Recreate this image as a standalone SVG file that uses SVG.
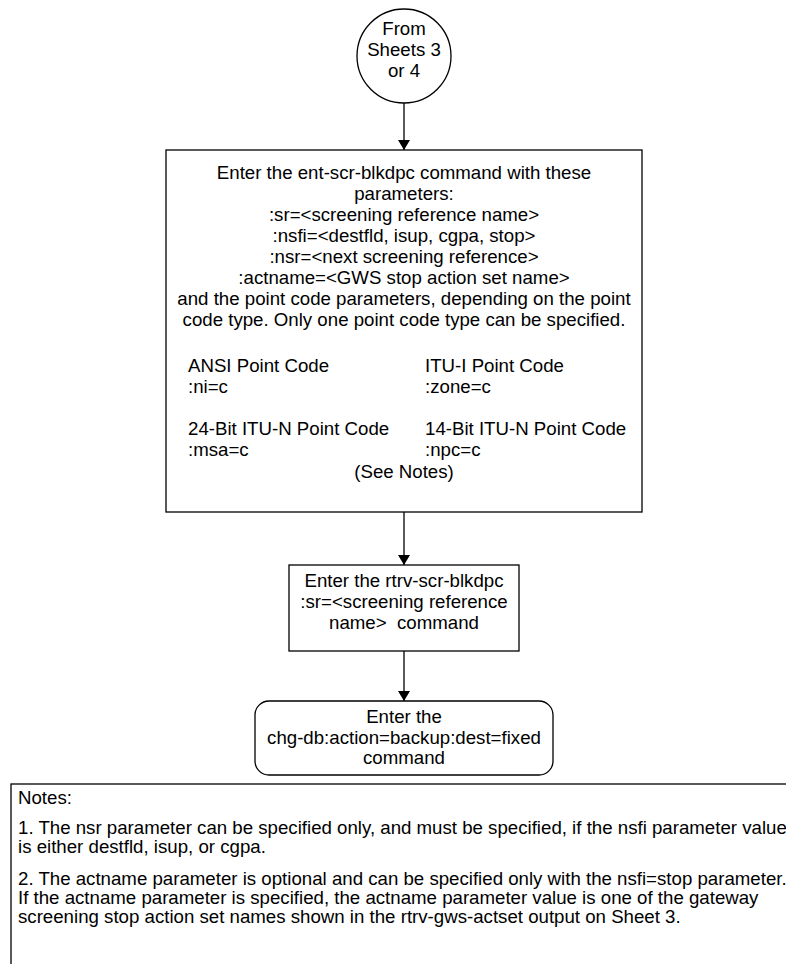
<svg xmlns="http://www.w3.org/2000/svg" width="786" height="964" viewBox="0 0 786 964">
<defs>
<marker id="arr" markerWidth="10" markerHeight="12" refX="10" refY="6" orient="auto" markerUnits="userSpaceOnUse">
<path d="M0,0 L10,6 L0,12 z" fill="#000"/>
</marker>
<style>
.s{fill:#fff;stroke:#000;stroke-width:1.3}
.t{font-family:"Liberation Sans",Arial,sans-serif;font-size:18.67px;fill:#000}
.c{text-anchor:middle}
.l{fill:none;stroke:#000;stroke-width:1.3}
</style>
</defs>
<rect width="786" height="964" fill="#fff"/>
<g id="start">
<circle class="s" cx="404" cy="56" r="47"/>
<text class="t c" x="404" y="35">From</text>
<text class="t c" x="404" y="56">Sheets 3</text>
<text class="t c" x="404" y="77">or 4</text>
</g>
<g id="enter-blkdpc">
<rect class="s" x="166" y="150" width="476" height="362"/>
<text class="t c" x="404" y="179">Enter the ent-scr-blkdpc command with these</text>
<text class="t c" x="404" y="200">parameters:</text>
<text class="t c" x="404" y="221">:sr=&lt;screening reference name&gt;</text>
<text class="t c" x="404" y="242">:nsfi=&lt;destfld, isup, cgpa, stop&gt;</text>
<text class="t c" x="404" y="263">:nsr=&lt;next screening reference&gt;</text>
<text class="t c" x="404" y="284">:actname=&lt;GWS stop action set name&gt;</text>
<text class="t c" x="404" y="305">and the point code parameters, depending on the point</text>
<text class="t c" x="404" y="326">code type. Only one point code type can be specified.</text>
<text class="t" x="188" y="372">ANSI Point Code</text>
<text class="t" x="188" y="393">:ni=c</text>
<text class="t" x="425" y="372">ITU-I Point Code</text>
<text class="t" x="425" y="393">:zone=c</text>
<text class="t" x="188" y="435">24-Bit ITU-N Point Code</text>
<text class="t" x="188" y="456">:msa=c</text>
<text class="t" x="425" y="435">14-Bit ITU-N Point Code</text>
<text class="t" x="425" y="456">:npc=c</text>
<text class="t c" x="404" y="478">(See Notes)</text>
</g>
<g id="rtrv-blkdpc">
<rect class="s" x="289" y="565" width="230" height="86"/>
<text class="t c" x="404" y="587">Enter the rtrv-scr-blkdpc</text>
<text class="t c" x="404" y="608">:sr=&lt;screening reference</text>
<text class="t c" x="404" y="629" xml:space="preserve">name&gt;  command</text>
</g>
<g id="chg-db">
<rect class="s" x="255" y="701" width="298" height="74" rx="14" ry="14"/>
<text class="t c" x="404" y="723">Enter the</text>
<text class="t c" x="404" y="744">chg-db:action=backup:dest=fixed</text>
<text class="t c" x="404" y="764">command</text>
</g>
<g id="notes">
<rect class="s" x="11" y="784" width="800" height="200"/>
<text class="t" x="18" y="804">Notes:</text>
<text class="t" x="18" y="834">1. The nsr parameter can be specified only, and must be specified, if the nsfi parameter value</text>
<text class="t" x="18" y="853">is either destfld, isup, or cgpa.</text>
<text class="t" x="18" y="885">2. The actname parameter is optional and can be specified only with the nsfi=stop parameter.</text>
<text class="t" x="18" y="904">If the actname parameter is specified, the actname parameter value is one of the gateway</text>
<text class="t" x="18" y="923">screening stop action set names shown in the rtrv-gws-actset output on Sheet 3.</text>
</g>
<g id="connectors">
<line class="l" x1="404" y1="103" x2="404" y2="150" marker-end="url(#arr)"/>
<line class="l" x1="404" y1="512" x2="404" y2="565" marker-end="url(#arr)"/>
<line class="l" x1="404" y1="651" x2="404" y2="701" marker-end="url(#arr)"/>
</g>
</svg>
